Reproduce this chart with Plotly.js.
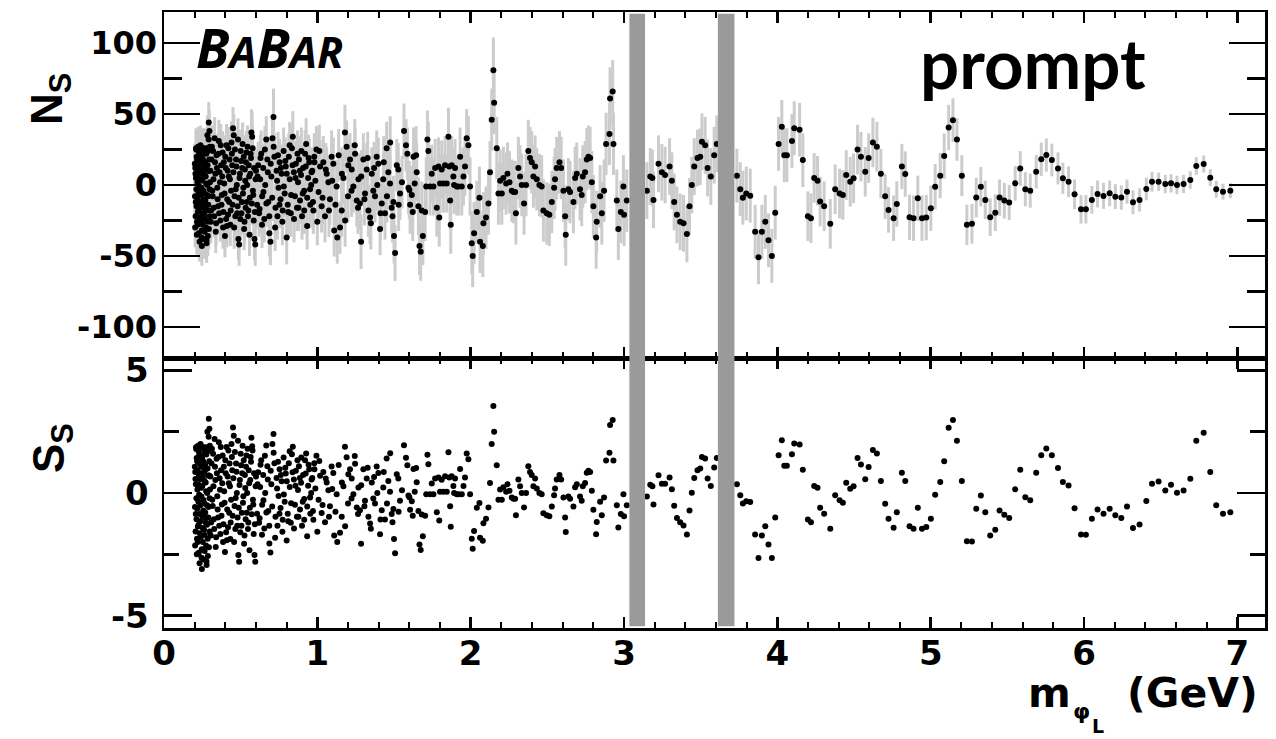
<!DOCTYPE html>
<html>
<head>
<meta charset="utf-8">
<script src="https://cdn.plot.ly/plotly-3.0.1.min.js"></script>
<style>
html,body{margin:0;padding:0;background:#fff;}
#chart{width:1276px;height:739px;}
</style>
</head>
<body>
<div id="chart"></div>
<script>
// ---------------- DATA ----------------
// mass m_phiL (GeV), signal yield N_S, its uncertainty, and significance S_S

const massA = [0.202,0.204,0.206,0.208,0.210,0.212,0.214,0.216,0.218,0.220,0.222,0.224,0.226,0.228,0.230,0.232,0.234,0.236,0.238,0.240,0.242,0.244,0.246,0.247,0.248,0.250,0.252,0.254,0.256,0.258,0.260,0.262,0.264,0.266,0.268,0.270,0.272,0.274,0.276,0.278,0.280,0.282,0.284,0.286,0.288,0.290,0.292,0.294,0.296,0.298,0.300];
const nsA = [-8,12,-22,5,25,-15,-35,18,2,-28,27,-5,-18,10,22,-40,-12,8,28,-25,15,-2,-32,-43,20,4,-20,26,-10,-38,12,24,-6,-24,16,-14,6,-30,22,-41,-18,0,14,-36,24,-8,44,10,38,-22,2];
const errA = [14,14,14,14,14,14,14,14,14,14,14,14,14,14,14,14,14,14,14,14,14,14,14,14,14,14,14,14,14,14,14,14,14,14,14,14,14,14,14,14,14,14,14,14,14,14,14.5,14,14.5,14,14];
const ssA = [-0.57,0.86,-1.57,0.36,1.79,-1.07,-2.5,1.29,0.14,-2.0,1.93,-0.36,-1.29,0.71,1.57,-2.86,-0.86,0.57,2.0,-1.79,1.07,-0.14,-2.29,-3.1,1.43,0.29,-1.43,1.86,-0.71,-2.71,0.86,1.71,-0.43,-1.71,1.14,-1.0,0.43,-2.14,1.57,-2.93,-1.29,0,1.0,-2.57,1.71,-0.57,3.03,0.71,2.62,-1.57,0.14];

const massA2 = [0.201,0.203,0.205,0.207,0.209,0.211,0.213,0.215,0.217,0.219,0.221,0.223,0.225,0.227,0.229,0.231,0.233,0.235,0.237,0.239,0.241,0.243,0.245,0.247,0.249,0.251,0.253,0.255,0.257,0.259,0.261,0.263,0.265,0.267,0.269,0.271,0.273,0.275,0.277,0.279,0.281,0.283,0.285,0.287,0.289,0.291,0.293,0.295,0.297,0.299];
const nsA2 = [15,-30,8,-12,26,-3,20,-26,-9,13,-19,5,24,-34,-1,17,-23,11,-7,27,-16,3,-37,21,-13,9,-28,18,-4,26,-21,7,-33,13,-11,23,-17,1,-39,26,-7,35,-26,10,-14,32,-31,18,-3,27];
const errA2 = [14,14,14,14,14,14,14,14,14,14,14,14,14,14,14,14,14,14,14,14,14,14,14,14,14,14,14,14,14,14,14,14,14,14,14,14,14,14,14,14,14,14,14,14,14,14,14,14,14,14];
const ssA2 = [1.07,-2.14,0.57,-0.86,1.86,-0.21,1.43,-1.86,-0.64,0.93,-1.36,0.36,1.71,-2.43,-0.07,1.21,-1.64,0.79,-0.5,1.93,-1.14,0.21,-2.64,1.5,-0.93,0.64,-2.0,1.29,-0.29,1.86,-1.5,0.5,-2.36,0.93,-0.79,1.64,-1.21,0.07,-2.79,1.86,-0.5,2.5,-1.86,0.71,-1.0,2.29,-2.21,1.29,-0.21,1.93];

const massB = [0.305,0.31,0.315,0.32,0.325,0.33,0.335,0.34,0.345,0.35,0.355,0.36,0.365,0.37,0.375,0.38,0.385,0.39,0.395,0.40,0.405,0.41,0.415,0.42,0.425,0.43,0.435,0.44,0.445,0.45,0.455,0.46,0.465,0.47,0.475,0.48,0.485,0.49,0.495,0.50,0.505,0.51,0.515,0.52,0.525,0.53,0.535,0.54,0.545,0.55,0.555,0.56,0.565,0.57,0.575,0.58,0.585,0.59,0.595,0.60];
const nsB = [-26,18,-4,24,-16,33,8,-27,12,-10,22,-20,2,28,-14,6,-30,16,-6,20,-24,-29,10,26,-12,4,-18,30,14,40,35,-8,-22,18,0,-15,-38,-42,8,24,-20,12,-6,20,-26,3,16,-12,27,-18,6,-9,22,37,34,-4,-25,-38,-42,10];
const errB = [15,15,15,15,15,15,15,15,15,15,15,15,15,15,15,15,15,15,15,15,15,15,15,15,15,15,15,15,15,15,15,15,15,15,15,15,15,15,15,15,15,15,15,15,15,15,15,15,15,15,15,15,15,16.4,17.9,15,15,15,15,15];
const ssB = [-1.73,1.2,-0.27,1.6,-1.07,2.2,0.53,-1.8,0.8,-0.67,1.47,-1.33,0.13,1.87,-0.93,0.4,-2.0,1.07,-0.4,1.33,-1.6,-1.93,0.67,1.73,-0.8,0.27,-1.2,2.0,0.93,2.67,2.33,-0.53,-1.47,1.2,0,-1.0,-2.53,-2.8,0.53,1.6,-1.33,0.8,-0.4,1.33,-1.73,0.2,1.07,-0.8,1.8,-1.2,0.4,-0.6,1.47,2.25,1.9,-0.27,-1.67,-2.53,-2.8,0.67];

const massB2 = [0.3025,0.3075,0.3125,0.3175,0.3225,0.3275,0.3325,0.3375,0.3425,0.3475,0.3525,0.3575,0.3625,0.3675,0.3725,0.3775,0.3825,0.3875,0.3925,0.3975,0.4025,0.4075,0.4125,0.4175,0.4225,0.4275,0.4325,0.4375,0.4425,0.4475,0.4525,0.4575,0.4625,0.4675,0.4725,0.4775,0.4825,0.4875,0.4925,0.4975,0.5025,0.5075,0.5125,0.5175,0.5225,0.5275,0.5325,0.5375,0.5425,0.5475,0.5525,0.5575,0.5625,0.5675,0.5725,0.5775,0.5825,0.5875,0.5925,0.5975];
const nsB2 = [10,-18,27,-8,4,-22,16,-33,21,-2,-15,31,9,-25,14,-7,23,-19,1,-36,12,28,-10,-21,6,18,-28,-4,22,-14,9,-30,25,-3,13,-20,32,-9,5,-24,17,-12,29,-2,-31,11,-16,23,0,-22,14,-35,8,19,-13,26,-7,12,-19,4];
const errB2 = [15,15,15,15,15,15,15,15,15,15,15,15,15,15,15,15,15,15,15,15,15,15,15,15,15,15,15,15,15,15,15,15,15,15,15,15,15,15,15,15,15,15,15,15,15,15,15,15,15,15,15,15,15,15,15,15,15,15,15,15];
const ssB2 = [0.67,-1.2,1.8,-0.53,0.27,-1.47,1.07,-2.2,1.4,-0.13,-1.0,2.07,0.6,-1.67,0.93,-0.47,1.53,-1.27,0.07,-2.4,0.8,1.87,-0.67,-1.4,0.4,1.2,-1.87,-0.27,1.47,-0.93,0.6,-2.0,1.67,-0.2,0.87,-1.33,2.13,-0.6,0.33,-1.6,1.13,-0.8,1.93,-0.13,-2.07,0.73,-1.07,1.53,0,-1.47,0.93,-2.33,0.53,1.27,-0.87,1.73,-0.47,0.8,-1.27,0.27];

const massC = [0.607,0.614,0.62,0.627,0.634,0.64,0.647,0.654,0.66,0.667,0.674,0.68,0.687,0.694,0.70,0.707,0.714,0.72,0.727,0.734,0.74,0.747,0.754,0.76,0.767,0.774,0.78,0.787,0.794,0.80,0.807,0.814,0.82,0.827,0.834,0.84,0.847,0.854,0.86,0.867,0.874,0.88,0.887,0.894,0.90,0.907,0.914,0.92,0.927,0.934,0.94,0.947,0.954,0.96,0.967,0.974,0.98,0.987,0.994,1.0];
const nsC = [-14,14,-20,4,22,-8,12,-24,0,32,18,-12,-34,-40,6,33,48,20,-16,10,-22,-2,16,-10,8,-18,24,-6,13,-37,-14,20,4,-20,26,34,9,-8,15,-16,2,18,-11,7,-22,12,-4,22,29,-9,5,16,-14,0,10,-18,20,3,25,-26];
const errC = [16.5,16.5,16.5,16.5,16.5,16.5,16.5,16.5,16.5,16.5,16.5,16.5,16.5,16.5,16.5,16.5,20,16.5,16.5,16.5,16.5,16.5,16.5,16.5,16.5,16.5,16.5,16.5,16.5,19,16.5,16.5,16.5,16.5,16.5,18,16.5,16.5,16.5,16.5,16.5,16.5,16.5,16.5,16.5,16.5,16.5,16.5,18,16.5,16.5,16.5,16.5,16.5,16.5,16.5,16.5,16.5,16.5,16.5];
const ssC = [-0.85,0.85,-1.21,0.24,1.33,-0.48,0.73,-1.45,0,1.94,1.09,-0.73,-2.06,-2.42,0.36,2.0,2.4,1.21,-0.97,0.61,-1.33,-0.12,0.97,-0.61,0.48,-1.09,1.45,-0.36,0.79,-1.94,-0.85,1.21,0.24,-1.21,1.58,1.88,0.55,-0.48,0.91,-0.97,0.12,1.09,-0.67,0.42,-1.33,0.73,-0.24,1.33,1.61,-0.55,0.3,0.97,-0.85,0,0.61,-1.09,1.21,0.18,1.52,-1.58];

const massC2 = [0.6105,0.6235,0.6295,0.639,0.6485,0.658,0.6675,0.677,0.6865,0.696,0.7055,0.715,0.7245,0.7375,0.7435,0.753,0.7625,0.772,0.7815,0.791,0.8005,0.81,0.8195,0.829,0.8385,0.848,0.8575,0.8705,0.8765,0.886,0.8955,0.905,0.9145,0.924,0.9335,0.943,0.9525,0.962,0.9715,0.981];
const nsC2 = [6,-17,19,-28,-5,25,-13,9,-22,15,-9,27,-30,3,21,-14,12,-26,-1,17,8,-19,28,-7,14,-24,5,22,-16,10,24,-6,-18,13,-29,19,-3,9,-12,16];
const errC2 = [16.5,16.5,16.5,16.5,16.5,16.5,16.5,16.5,16.5,16.5,16.5,16.5,16.5,16.5,16.5,16.5,16.5,16.5,16.5,16.5,16.5,16.5,16.5,16.5,16.5,16.5,16.5,16.5,16.5,16.5,16.5,16.5,16.5,16.5,16.5,16.5,16.5,16.5,16.5,16.5];
const ssC2 = [0.36,-1.03,1.15,-1.7,-0.3,1.52,-0.79,0.55,-1.33,0.91,-0.55,1.64,-1.82,0.18,1.27,-0.85,0.73,-1.58,-0.06,1.03,0.48,-1.15,1.7,-0.42,0.85,-1.45,0.3,1.33,-0.97,0.61,1.45,-0.36,-1.09,0.79,-1.76,1.15,-0.18,0.55,-0.73,0.97];

const massD = [1.008,1.018,1.028,1.039,1.05,1.061,1.072,1.082,1.093,1.104,1.11,1.126,1.13,1.148,1.159,1.17,1.18,1.191,1.2,1.213,1.224,1.235,1.246,1.257,1.268,1.278,1.285,1.3,1.311,1.322,1.333,1.344,1.355,1.365,1.376,1.387,1.398,1.409,1.42,1.43,1.441,1.452,1.463,1.474,1.485,1.496,1.5,1.507,1.518,1.528,1.539,1.552,1.565,1.578,1.587,1.594];
const nsD = [-5,13,-15,16,-22,8,2,-10,20,15,-32,-1,-37,-30,-18,5,37,27,-8,18,11,-1,22,-11,4,-13,-40,18,-6,11,-18,-23,8,-4,-8,20,15,-31,-13,4,-20,26,9,1,-16,-12,-36,-48,14,11,-6,2,38,28,22,-2];
const errD = [18.5,18.5,18.5,18.5,18.5,18.5,18.5,18.5,18.5,18.5,18.5,18.5,18.5,18.5,18.5,18.5,19.6,18.5,18.5,18.5,18.5,18.5,18.5,18.5,18.5,18.5,19.3,18.5,18.5,18.5,18.5,18.5,18.5,18.5,18.5,18.5,18.5,18.5,18.5,18.5,18.5,18.5,18.5,18.5,18.5,18.5,19.3,19.6,18.5,18.5,18.5,18.5,19.5,18.5,18.5,18.5];
const ssD = [-0.27,0.7,-0.81,0.86,-1.19,0.43,0.11,-0.54,1.08,0.81,-1.73,-0.05,-2.0,-1.62,-0.97,0.27,1.88,1.46,-0.43,0.97,0.59,-0.05,1.19,-0.59,0.22,-0.7,-2.07,0.97,-0.32,0.59,-0.97,-1.24,0.43,-0.22,-0.43,1.08,0.81,-1.68,-0.7,0.22,-1.08,1.41,0.49,0.05,-0.86,-0.65,-1.87,-2.45,0.76,0.59,-0.32,0.11,1.95,1.44,1.13,-0.1];

const massD2 = [1.013,1.034,1.055,1.076,1.097,1.118,1.139,1.16,1.181,1.202,1.223,1.244,1.265,1.286,1.307,1.328,1.349,1.37,1.391,1.412,1.433,1.454,1.475,1.49,1.53];
const nsD2 = [24,-9,11,-18,3,-14,21,8,-25,14,-4,28,-16,6,-10,19,-27,12,0,-20,16,-8,30,-22,-14];
const errD2 = [18.5,18.5,18.5,18.5,18.5,18.5,18.5,18.5,18.5,18.5,18.5,18.5,18.5,18.5,18.5,18.5,18.5,18.5,18.5,18.5,18.5,18.5,18.5,18.5,18.5];
const ssD2 = [1.3,-0.49,0.59,-0.97,0.16,-0.76,1.14,0.43,-1.35,0.76,-0.22,1.51,-0.86,0.32,-0.54,1.03,-1.46,0.65,0,-1.08,0.86,-0.43,1.62,-1.19,-0.76];

const massE = [1.6,1.605,1.616,1.622,1.627,1.635,1.644,1.648,1.659,1.666,1.674,1.681,1.688,1.703,1.71,1.718,1.724,1.735,1.746,1.757,1.768,1.779,1.79,1.795,1.8,1.811,1.822,1.833,1.844,1.855,1.86,1.866,1.87,1.876,1.887,1.892,1.898,1.909,1.92,1.931,1.942,1.953,1.963,1.974,1.985,1.996];
const nsE = [-3.5,-14,-7,-19,20,1,21,9,-15,-43,-47,-18,-36,-19,-1,32,24,-1,8,-1,12,-16,13,-23,1,11,1,14,1,34,13,-11,-28,14,6,0,12,-1,-1,20,-1,6,13,33,28,-1];
const errE = [20.5,20.5,20.5,20.5,20.5,20.5,20.5,20.5,20.5,20.5,20.5,20.5,20.5,20.5,20.5,20.5,20.5,20.5,20.5,20.5,20.5,20.5,20.5,20.5,20.5,20.5,20.5,20.5,20.5,20.5,20.5,20.5,20.5,20.5,20.5,20.5,20.5,20.5,20.5,20.5,20.5,20.5,20.5,20.5,20.5,20.5];
const ssE = [-0.17,-0.68,-0.34,-0.93,0.98,0.05,1.02,0.44,-0.73,-2.1,-2.32,-0.88,-1.76,-0.93,-0.05,1.56,1.17,-0.05,0.39,-0.05,0.59,-0.78,0.63,-1.12,0.05,0.54,0.05,0.68,0.05,1.66,0.63,-0.54,-1.37,0.68,0.29,0,0.59,-0.05,-0.05,0.98,-0.05,0.29,0.63,1.61,1.37,-0.05];

const massF = [2.007,2.013,2.022,2.04,2.057,2.061,2.079,2.083,2.1,2.116,2.126,2.137,2.148,2.153,2.17,2.181,2.192,2.203,2.213,2.231,2.24,2.253,2.268,2.279,2.29,2.295,2.311,2.322,2.333,2.348,2.361,2.376,2.387,2.398,2.409,2.42,2.431,2.448,2.463,2.474,2.496,2.513,2.529,2.544,2.55,2.561,2.579,2.59,2.605,2.616,2.62,2.637,2.648,2.67,2.681,2.692,2.713,2.724,2.731,2.746,2.757,2.768,2.779,2.79,2.8,2.818,2.822,2.844,2.855,2.87,2.883,2.905,2.909,2.926,2.931,2.953,2.963,2.979,2.996,3.0,3.018];
const nsF = [-41,-50,-34,-19,-9,-40,-43,-27,-23,-13,9,46,81,58,26,-6,3,-6,5,1,8,2,-4,-5,-5,-20,12,6,0,-13,0,24,19,16,6,13,4,0,-1,-18,-20,-21,-12,-2,4,12,16,12,-4,-22,-35,-3,-5,-12,5,8,-3,-7,6,9,18,20,19,2,-15,-37,-26,-8,-20,-4,29,36,61,66,29,-11,-31,-19,-1,-21,-11];
const errF = [22,22,22,22,22,22,22,22,22,22,22,22,23,22,22,22,22,22,22,22,22,22,22,22,22,22,22,22,22,22,22,22,22,22,22,22,22,22,22,22,22,22,22,22,22,22,22,22,22,22,22,22,22,22,22,22,22,22,22,22,22,22,22,22,22,22,22,22,22,22,22,22,22,22,22,22,22,22,22,22,22];
const ssF = [-1.86,-2.27,-1.55,-0.6,-0.41,-1.82,-1.95,-1.23,-1.05,-0.59,0.41,2.0,3.54,2.5,1.13,-0.27,0.14,-0.27,0.23,0.05,0.36,0.09,-0.18,-0.23,-0.23,-0.91,0.55,0.27,0,-0.59,0,1.09,0.86,0.73,0.27,0.59,0.18,0,-0.05,-0.82,-0.91,-0.95,-0.55,-0.09,0.18,0.55,0.73,0.55,-0.18,-1.0,-1.59,-0.14,-0.23,-0.55,0.23,0.36,-0.14,-0.32,0.27,0.41,0.82,0.91,0.86,0.09,-0.68,-1.68,-1.18,-0.36,-0.91,-0.18,1.32,1.64,2.77,2.97,1.32,-0.5,-1.41,-0.86,-0.05,-0.95,-0.5];

const massG = [3.149,3.171,3.185,3.192,3.225,3.247,3.268,3.297,3.312,3.327,3.345,3.366,3.388,3.41,3.427,3.442,3.458,3.479,3.497,3.508,3.529,3.545,3.566,3.588,3.605];
const nsG = [-4,6,5,-10.5,15,9,7,13,3,-12,-21,-26,-27,-34.5,-15,0,13,19,20,30.5,28,12,6,21,29];
const errG = [20,20,20,20,20,20,20,20,20,20,20,20,20,20,20,20,20,20,20,20,20,20,20,20,20];
const ssG = [-0.14,0.34,0.28,-0.47,0.72,0.38,0.38,0.63,0.15,-0.52,-1.02,-1.19,-1.32,-1.69,-0.71,0.01,0.61,0.93,1.0,1.47,1.41,0.59,0.29,1.04,1.43];

const massH = [3.736,3.758,3.775,3.797,3.823,3.855,3.877,3.899,3.921,3.942,3.964,3.986,4.008,4.029,4.045,4.062,4.095,4.11,4.145,4.166,4.199,4.219,4.24,4.262,4.279,4.305,4.345,4.377,4.406,4.427,4.449,4.475,4.497,4.523,4.545,4.573,4.595,4.623,4.649,4.675,4.703,4.725,4.758,4.779,4.812,4.834,4.862,4.888,4.916,4.943,4.971,5.001,5.029,5.062,5.088,5.117];
const nsH = [6.6,-3,-9,-6,-7.5,-33,-51,-33,-26,-39,-50,-19.5,29,41,21,21,31,40,39,17.6,-22,-23.4,5,3,-11.7,-15,-27.4,-3,-6,-7,7,2.3,4.7,25,20,9.4,19,30,27,8,-8,-17.6,-23.4,-13.4,13,7.7,-22.7,-23.4,-9.4,-23.4,-23,-16.4,-1.2,6.6,20.4,40.6];
const errH = [19,19,19,19,19,19,19,19,19,19,19,19,19,19,19,19,19,19,19,19,17.5,17.5,17.5,17.5,17.5,17.5,17.5,17.5,17.5,17.5,17.5,17.5,17.5,17.5,17.5,17.5,17.5,17.5,17.5,17.5,16,16,16,16,16,16,16,16,16,16,16,16,16,16,16,16];
const ssH = [0.36,-0.09,-0.43,-0.34,-0.37,-1.69,-2.65,-1.73,-1.35,-2.1,-2.65,-1.0,1.54,2.15,1.11,1.11,1.58,2.02,1.98,0.95,-1.08,-1.19,0.29,0.21,-0.6,-0.85,-1.46,-0.09,-0.3,-0.4,0.42,0.17,0.27,1.43,1.16,0.56,1.06,1.75,1.61,0.49,-0.44,-1.05,-1.42,-0.78,0.82,0.49,-1.35,-1.46,-0.6,-1.46,-1.39,-1.05,-0.07,0.45,1.29,2.66];

const massI = [5.145,5.171,5.203,5.236,5.269,5.297,5.327,5.356,5.388,5.421,5.449,5.48,5.512,5.551,5.584,5.617,5.649,5.688,5.721,5.754,5.79,5.83,5.862,5.899,5.938,5.98,6.012,6.051,6.088,6.127,6.167,6.204,6.243,6.28,6.319,6.362,6.406,6.443,6.486,6.53,6.567,6.606,6.649,6.693,6.732,6.78,6.823,6.862,6.906,6.954];
const nsI = [45.7,32.1,6.6,-28.1,-27.4,-8.9,-1.2,-10.5,-22.7,-19.5,-8.9,-11,-12.4,1.2,11.7,-3,-4,9.4,18.1,21.1,17.6,11.7,4.7,2.3,-6.6,-17.1,-17.1,-10.5,-6.3,-7.7,-5.9,-8.2,-8.9,-4.7,-12.2,-10.5,-2.8,2.3,2.3,0.7,1.2,0,0.7,3.5,13.4,14.8,5.2,-3,-4.7,-4];
const errI = [15.4,15,14.5,14.3,14,14,13.8,13.6,13.2,13,12.8,12.6,12.4,12.2,12.2,12,12,11.8,11.8,11.7,11.5,11.3,11,10.8,10.5,10.1,10,9.8,9.5,9.2,9,8.8,8.6,8.5,8.4,8.2,8,7,6.5,6.5,6.5,6.5,6.4,6.2,6.2,6,6,6,5.6,5.2];
const ssI = [2.97,2.13,0.49,-1.97,-1.98,-0.64,-0.1,-0.78,-1.73,-1.5,-0.71,-0.89,-1.02,0.15,0.95,-0.17,-0.3,0.82,1.54,1.81,1.54,1.02,0.45,0.31,-0.62,-1.69,-1.7,-1.05,-0.67,-0.85,-0.64,-0.91,-1.02,-0.55,-1.43,-1.28,-0.33,0.38,0.47,0.1,0.34,0.01,0.1,0.58,2.13,2.45,0.86,-0.5,-0.85,-0.78];

// vetoed charmonium regions (J/psi, psi(2S))
const vetoLo = [3.035, 3.612];
const vetoHi = [3.137, 3.720];

// tick labels
const xTickVals = [0,1,2,3,4,5,6,7];
const xTickText = ['0','1','2','3','4','5','6','7'];
const nTickVals = [-100,-50,0,50,100];
const nTickText = ['-100','-50','0','50','100'];
const sTickVals = [-5,0,5];
const sTickText = ['-5','0','5'];

// ---------------- assemble ----------------
const mass = [].concat(massA,massA2,massB,massB2,massC,massC2,massD,massD2,massE,massF,massG,massH,massI);
const ns   = [].concat(nsA,nsA2,nsB,nsB2,nsC,nsC2,nsD,nsD2,nsE,nsF,nsG,nsH,nsI);
const nsErr= [].concat(errA,errA2,errB,errB2,errC,errC2,errD,errD2,errE,errF,errG,errH,errI);
const ss   = [].concat(ssA,ssA2,ssB,ssB2,ssC,ssC2,ssD,ssD2,ssE,ssF,ssG,ssH,ssI);

// ---------------- layout geometry ----------------
const W = 1276, H = 739, ML = 164, MR = 11, MT = 12, MB = 111;
const PW = W - ML - MR, PH = H - MT - MB;
const pxX = v => (v - ML) / PW;          // pixel x -> paper x
const pxY = v => (H - MB - v) / PH;      // pixel y -> paper y
const split = pxY(358);

const xMinor = [];
for (let i = 1; i <= 35; i++) { if (i % 5 !== 0) xMinor.push(i * 0.2); }

const black = '#000';
const tickFontX = {family: 'DejaVu Sans', size: 34, weight: 'bold', color: black};
const tickFontY = {family: 'DejaVu Sans', size: 32, weight: 'bold', color: black};

function xAxis(extra) {
  return Object.assign({
    range: [0, 7.18], showline: true, linewidth: 2.5, linecolor: black, mirror: 'ticks',
    ticks: 'inside', ticklen: 11, tickwidth: 2.5, tickcolor: black,
    tickmode: 'array', tickvals: xTickVals, ticktext: xTickText,
    minor: {tickmode: 'array', tickvals: xMinor, ticks: 'inside', ticklen: 6, tickwidth: 2, tickcolor: black},
    showgrid: false, zeroline: false, fixedrange: true, tickfont: tickFontX
  }, extra);
}

const layout = {
  width: W, height: H,
  margin: {l: ML, r: MR, t: MT, b: MB, pad: 0},
  paper_bgcolor: '#fff', plot_bgcolor: '#fff',
  showlegend: false,
  xaxis: xAxis({anchor: 'y', domain: [0, 1], ticklabelstandoff: -6}),
  xaxis2: xAxis({anchor: 'y2', domain: [0, 1], matches: 'x', showticklabels: false}),
  yaxis: {
    domain: [0, split], anchor: 'x', range: [-5.5, 5.5],
    showline: true, linewidth: 2.5, linecolor: black, mirror: 'ticks',
    ticks: 'inside', ticklen: 28, tickwidth: 2.5, tickcolor: black,
    tickmode: 'array', tickvals: sTickVals, ticktext: sTickText,
    minor: {tickmode: 'array', tickvals: [-2.5, 2.5], ticks: 'inside', ticklen: 15, tickwidth: 2.5, tickcolor: black},
    showgrid: false, zeroline: false, fixedrange: true, tickfont: tickFontX, ticklabelstandoff: 6
  },
  yaxis2: {
    domain: [split, 1], anchor: 'x2', range: [-122, 122],
    showline: true, linewidth: 2.5, linecolor: black, mirror: 'ticks',
    ticks: 'inside', ticklen: 36, tickwidth: 2.5, tickcolor: black,
    tickmode: 'array', tickvals: nTickVals, ticktext: nTickText,
    minor: {tickmode: 'array', tickvals: [-75, -25, 25, 75], ticks: 'inside', ticklen: 18, tickwidth: 2.5, tickcolor: black},
    showgrid: false, zeroline: false, fixedrange: true, tickfont: tickFontY, ticklabelstandoff: -2
  },
  shapes: vetoLo.map((lo, i) => ({
    type: 'rect', xref: 'x', yref: 'paper', x0: lo, x1: vetoHi[i], y0: 0.003, y1: 0.997,
    fillcolor: '#9a9a9a', line: {width: 0}, layer: 'above'
  })),
  annotations: [
    {text: 'B<span style="font-size:43px">A</span>B<span style="font-size:43px">AR</span>',
     xref: 'paper', yref: 'paper', x: pxX(194), y: pxY(47), xanchor: 'left', yanchor: 'middle',
     showarrow: false, font: {family: 'Open Sans', size: 54, weight: 'bold', style: 'italic', color: black}},
    {text: 'prompt', xref: 'paper', yref: 'paper', x: pxX(918), y: pxY(62), xanchor: 'left', yanchor: 'middle',
     showarrow: false, font: {family: 'Lato', size: 69, weight: 'bold', color: black}},
    {text: 'N<sub>S</sub>', xref: 'paper', yref: 'paper', x: pxX(50), y: pxY(99), xanchor: 'center', yanchor: 'middle',
     textangle: -90, showarrow: false, font: {family: 'Liberation Sans', size: 44, weight: 'bold', color: black}},
    {text: 'S<sub>S</sub>', xref: 'paper', yref: 'paper', x: pxX(52), y: pxY(448), xanchor: 'center', yanchor: 'middle',
     textangle: -90, showarrow: false, font: {family: 'Liberation Sans', size: 44, weight: 'bold', color: black}},
    {text: 'm', xref: 'paper', yref: 'paper', x: pxX(1049), y: pxY(693), xanchor: 'center', yanchor: 'middle',
     showarrow: false, font: {family: 'DejaVu Sans', size: 41, weight: 'bold', color: black}},
    {text: 'φ', xref: 'paper', yref: 'paper', x: pxX(1081), y: pxY(711), xanchor: 'center', yanchor: 'middle',
     showarrow: false, font: {family: 'DejaVu Sans', size: 22, weight: 'bold', color: black}},
    {text: 'L', xref: 'paper', yref: 'paper', x: pxX(1098), y: pxY(726), xanchor: 'center', yanchor: 'middle',
     showarrow: false, font: {family: 'DejaVu Sans', size: 19, weight: 'bold', color: black}},
    {text: '(GeV)', xref: 'paper', yref: 'paper', x: pxX(1192), y: pxY(693), xanchor: 'center', yanchor: 'middle',
     showarrow: false, font: {family: 'DejaVu Sans', size: 41, weight: 'bold', color: black}}
  ]
};

const traces = [
  {
    type: 'scatter', mode: 'markers', x: mass, y: ns, xaxis: 'x2', yaxis: 'y2',
    marker: {color: black, size: 6},
    error_y: {type: 'data', array: nsErr, visible: true, color: '#cccccc', thickness: 3, width: 0},
    hoverinfo: 'skip'
  },
  {
    type: 'scatter', mode: 'markers', x: mass, y: ss, xaxis: 'x', yaxis: 'y',
    marker: {color: black, size: 6},
    hoverinfo: 'skip'
  }
];

Plotly.newPlot('chart', traces, layout, {displayModeBar: false, staticPlot: true});
</script>
</body>
</html>
